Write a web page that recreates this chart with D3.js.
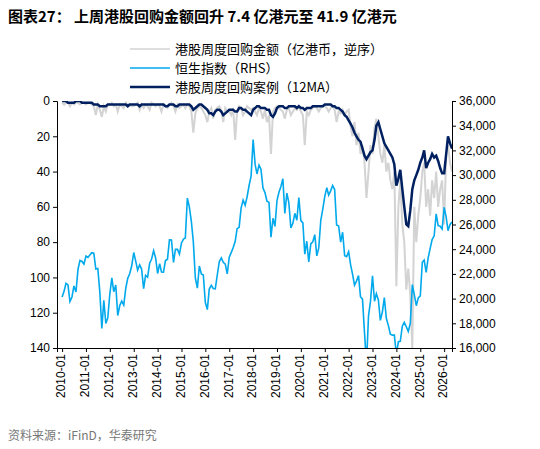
<!DOCTYPE html><html><head><meta charset="utf-8"><script src="https://cdn.jsdelivr.net/npm/d3@7"></script>
<style>body{margin:0;background:#fff;font-family:"Noto Sans CJK SC","Liberation Sans",sans-serif}</style></head><body><svg id="c" width="540" height="449"></svg>
<script>
const startYear=2010;
const buyback=[
1,2,1,1,3,1,2,1,1,2,1,1, 2,1,1,2,3,8,2,5,9,3,6,2, 2,1,3,2,6,2,3,4,1,2,2,3, 3,2,1,5,2,4,2,3,5,1,2,3,
2,3,6,2,3,4,2,1,3,6,2,4, 3,2,4,2,3,6,18,7,4,3,4,6, 8,12,6,4,10,5,4,3,5,12,4,6, 6,8,4,22,6,3,4,8,6,3,4,5,
4,6,8,4,6,10,5,12,8,30,6,4, 3,4,5,6,10,5,4,8,6,4,5,3, 6,8,25,6,8,5,4,3,4,6,4,3, 3,4,6,4,3,5,12,6,7,5,8,6,
5,15,20,12,25,18,30,25,35,55,40,25, 30,15,10,20,30,35,25,40,35,45,50,40, 105,60,45,70,80,107,95,110,140,60,80,65,
55,40,35,60,50,65,45,55,40,60,50,45, 70,30,25,35,40];
const ma12=[
0,0,0,1,1,1,1,0,0,0,1,1, 1,1,1,1,2,2,2,3,3,3,3,2, 2,2,2,2,2,2,2,2,2,3,2,2, 2,2,2,3,2,2,2,2,2,2,2,2,
2,2,2,2,3,3,2,2,2,3,3,2, 2,2,2,2,2,3,5,4,3,2,2,3, 4,5,7,7,8,6,5,5,6,8,7,6, 5,5,5,6,6,4,4,5,5,6,7,8,
5,4,3,3,4,4,4,5,5,8,9,7, 4,3,3,3,4,4,3,3,3,3,4,3, 4,4,5,4,4,4,3,3,3,3,3,3, 2,2,2,2,3,3,4,4,5,6,8,9,
11,13,15,18,20,22,23,27,31,33,31,29, 28,22,14,12,16,20,24,26,28,30,32,36, 48,44,39,50,60,70,71,62,50,45,42,39,
35,32,28,38,35,33,30,32,31,34,38,41, 41,30,20,24,27];
const hsi=[
20122,20609,21239,21108,19765,20129,21030,20537,22359,23096,23008,22791,
23447,23338,23528,23720,23684,22398,22440,20535,17592,19864,17989,18434,
20390,21680,20556,21094,18630,19441,19796,19482,20840,21641,22030,22657,
23730,23020,22300,22737,22392,20803,21883,21731,22859,23206,23881,23306,
22035,22837,22151,22134,23082,23191,24757,24742,22933,23998,23987,23605,
24507,24823,24901,28133,27424,26250,24636,21670,20846,22640,21996,21914,
19683,19112,20777,21067,20815,20794,21891,22977,23297,22935,22790,22001,
23361,23741,24112,24615,25661,25765,27324,27970,27554,28246,29177,29919,
32887,30845,30093,30808,30469,28955,28583,27889,27789,24980,26507,25846,
27942,28633,29051,29699,26901,28543,27778,25725,26092,26907,26346,28190,
26313,26130,23603,24644,22961,24427,24595,25177,23459,24107,26341,27231,
28284,28980,28378,28725,29152,28828,25961,25879,24576,25377,23475,23398,
23802,22713,21997,21089,21415,21860,20157,19954,17223,14687,18597,19781,
21842,19786,20400,19895,18234,18916,20079,18382,17810,17112,17043,17047,
15485,16511,16541,17763,18080,17719,17345,17989,21134,20317,19424,20060,
20225,22941,23120,22119,23290,24072,24773,25079,26856,25907,25858,25631,
27387,26600,25500,26000,26200];
const leftTicks=[0,20,40,60,80,100,120,140];
const rightTicks=[16000,18000,20000,22000,24000,26000,28000,30000,32000,34000,36000];
const xLabels=d3.range(2010,2027).map(y=>y+"-01");
const legendNames=["港股周度回购金额（亿港币，逆序）","恒生指数（RHS）","港股周度回购案例（12MA）"];
const dt=i=>new Date(startYear,i,1);
const svg=d3.select("#c");
const L=57,R=452,T=101,B=348;
const x=d3.scaleTime().domain([new Date(2009,9,15),new Date(2026,4,1)]).range([L,R]);
const yl=d3.scaleLinear().domain([0,140]).range([T,B]);
const yr=d3.scaleLinear().domain([16000,36000]).range([B,T]);
svg.append("text").attr("x",8).attr("y",22).attr("font-size",15).attr("font-weight","bold").attr("fill","#000").text("图表27：  上周港股回购金额回升 7.4 亿港元至 41.9 亿港元");
svg.append("defs").append("clipPath").attr("id","cp").append("rect").attr("x",L).attr("y",T).attr("width",R-L).attr("height",B-T);
const g=svg.append("g").attr("clip-path","url(#cp)");
const ln=(ys,arr)=>d3.line().x((d,i)=>x(dt(i))).y(d=>ys(d))(arr);
g.append("path").attr("d",ln(yl,buyback)).attr("fill","none").attr("stroke","#d3d3d3").attr("stroke-width",2);
g.append("path").attr("d",ln(yr,hsi)).attr("fill","none").attr("stroke","#00a9ec").attr("stroke-width",1.6);
g.append("path").attr("d",ln(yl,ma12)).attr("fill","none").attr("stroke","#002060").attr("stroke-width",2.5);
const ax=svg.append("g").attr("transform",`translate(${L},0)`).call(d3.axisLeft(yl).tickValues(leftTicks).tickSizeOuter(0).tickSize(4));
const axr=svg.append("g").attr("transform",`translate(${R},0)`).call(d3.axisRight(yr).tickValues(rightTicks).tickFormat(d3.format(",")).tickSizeOuter(0).tickSize(4));
const axb=svg.append("g").attr("transform",`translate(0,${B})`).call(d3.axisBottom(x).tickValues(xLabels.map(s=>new Date(+s.slice(0,4),0,1))).tickFormat((d,i)=>xLabels[i]).tickSizeOuter(0).tickSize(4));
axb.selectAll("text").attr("transform","rotate(-90)").attr("text-anchor","end").attr("dx","-0.5em").attr("dy","-0.35em");
[ax,axr,axb].forEach(a=>{a.selectAll("text").attr("font-size",12).attr("fill","#000").attr("font-family","Liberation Sans, Arial");a.selectAll("path,line").attr("stroke","#000");});
const cols=["#d3d3d3","#00a9ec","#002060"],ws=[1.5,1.6,2.5];
legendNames.forEach((n,i)=>{const yy=49+i*19;
svg.append("line").attr("x1",130).attr("x2",170).attr("y1",yy).attr("y2",yy).attr("stroke",cols[i]).attr("stroke-width",ws[i]);
svg.append("text").attr("x",175).attr("y",yy+5).attr("font-size",13).attr("fill","#000").text(n);});
svg.append("text").attr("x",8).attr("y",440).attr("font-size",12).attr("fill","#777").text("资料来源：iFinD，华泰研究");
</script></body></html>
